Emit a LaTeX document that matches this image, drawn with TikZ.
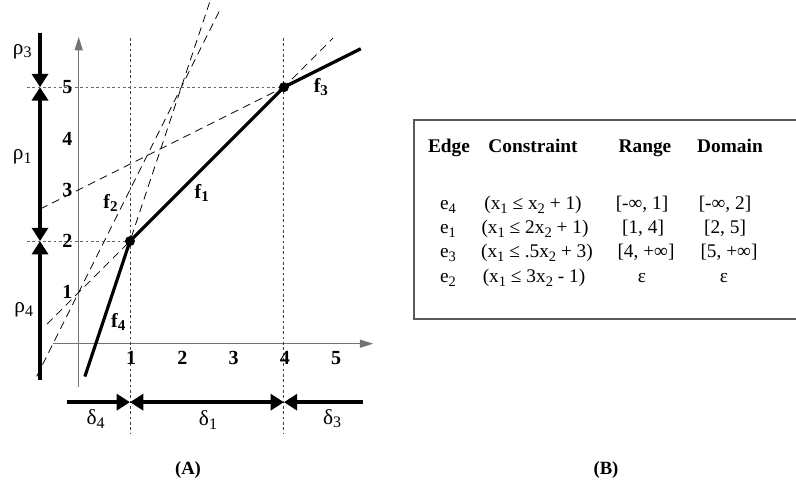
\documentclass[tikz,border=0pt]{standalone}
\usepackage{fontspec}
\setmainfont{Liberation Serif}
\usetikzlibrary{arrows.meta}
\newcommand\lowsub[1]{\raisebox{-0.35ex}{\scalebox{0.75}{#1}}}
\begin{document}
\begin{tikzpicture}[x=0.75pt,y=-0.75pt,
  glbl/.style={font=\fontsize{15}{17}\selectfont\bfseries, inner sep=0pt},
  captionlbl/.style={font=\fontsize{14}{16}\selectfont\bfseries, inner sep=0pt},
  greek/.style={font=\fontsize{16}{18}\selectfont, inner sep=0pt},
  tbl/.style={font=\fontsize{14.5}{17}\selectfont, inner sep=0pt, anchor=base},
  tblh/.style={tbl, font=\fontsize{14.5}{17}\selectfont\bfseries},
  axisline/.style={draw=black!55, line width=0.9pt},
  axistip/.style={-{Triangle[width=6pt,length=10pt]}},
  guide/.style={draw=black!75, line width=0.75pt, dash pattern=on 2pt off 2pt},
  cline/.style={draw=black, line width=0.6pt, dash pattern=on 6pt off 4pt},
  fline/.style={draw=black, line width=2.4pt, line join=round},
  fat/.style={draw=black, line width=3.4pt},
  bigtip/.tip={Triangle[width=12pt,length=10pt]},
  dotnode/.style={circle, fill=black, inner sep=0pt, minimum size=7.5pt}]
\useasboundingbox (0,0) rectangle (796,491);

\begin{scope}[shift={(78.7,343.7)}, x={(38.475pt,0pt)}, y={(0pt,38.475pt)}]
  % axes
  \coordinate (xs) at (-0.5,0);   \coordinate (xe) at (5.74,0);
  \coordinate (ys) at (0,-0.84);  \coordinate (ye) at (0,5.98);
  \draw[axisline, axistip] (xs) -- (xe);
  \draw[axisline, axistip] (ys) -- (ye);

  % guide lines
  \coordinate (v1t) at (1,5.96);  \coordinate (v1b) at (1,-1.74);
  \coordinate (v4t) at (4,5.96);  \coordinate (v4b) at (4,-1.74);
  \coordinate (h5l) at (-1.01,5); \coordinate (h2l) at (-1.01,2);
  \coordinate (P) at (1,2);       \coordinate (Q) at (4,5);
  \draw[guide] (v1t) -- (v1b);
  \draw[guide] (v4t) -- (v4b);
  \draw[guide, draw=black!60] (h5l) -- (Q);
  \draw[guide, draw=black!60] (h2l) -- (P);

  % constraint lines (dashed)
  \coordinate (a1) at (-0.62,0.38);  \coordinate (b1) at (4.96,5.96);
  \coordinate (a2) at (-0.82,-0.64); \coordinate (b2) at (2.75,6.5);
  \coordinate (a3) at (-0.75,2.625);
  \coordinate (a4) at (0.12,-0.64);  \coordinate (b4) at (2.55,6.65);
  \coordinate (e3) at (5.5,5.75);
  \draw[cline] (a1) -- (b1);
  \draw[cline] (a2) -- (b2);
  \draw[cline] (a3) -- (Q);
  \draw[cline] (a4) -- (b4);

  % piecewise function
  \draw[fline] (a4) -- (P) -- (Q) -- (e3);
  \node[dotnode] (dP) at (P) {};
  \node[dotnode] (dQ) at (Q) {};

  % tick labels
  \foreach \i in {1,...,5} {
    \node[glbl] (xt\i) at (\i+0.02,-0.28) {\i};
  }
  \foreach \i in {1,...,5} {
    \node[glbl] (yt\i) at (-0.22,\i) {\i};
  }

  % function labels
  \node[glbl] (f1) at (2.4,2.94) {f\lowsub{1}};
  \node[glbl] (f2) at (0.62,2.74) {f\lowsub{2}};
  \node[glbl] (f3) at (4.72,5.0) {f\lowsub{3}};
  \node[glbl] (f4) at (0.77,0.42) {f\lowsub{4}};

  % rho arrows
  \coordinate (rtop) at (-0.754,6.05); \coordinate (r5) at (-0.754,5);
  \coordinate (r2) at (-0.754,2);      \coordinate (rbot) at (-0.754,-0.71);
  \draw[fat, -{bigtip}] (rtop) -- (r5);
  \draw[fat, {bigtip}-{bigtip}] (r5) -- (r2);
  \draw[fat, -{bigtip}] (rbot) -- (r2);
  \node[greek] (rho3) at (-1.1,5.7) {ρ\lowsub{3}};
  \node[greek] (rho1) at (-1.1,3.64) {ρ\lowsub{1}};
  \node[greek] (rho4) at (-1.07,0.66) {ρ\lowsub{4}};

  % delta arrows
  \coordinate (dl) at (-0.23,-1.14); \coordinate (d1) at (1,-1.14);
  \coordinate (d4) at (4,-1.14);     \coordinate (dr) at (5.54,-1.14);
  \draw[fat, -{bigtip}] (dl) -- (d1);
  \draw[fat, {bigtip}-{bigtip}] (d1) -- (d4);
  \draw[fat, -{bigtip}] (dr) -- (d4);
  \node[greek] (del4) at (0.33,-1.47) {δ\lowsub{4}};
  \node[greek] (del1) at (2.52,-1.49) {δ\lowsub{1}};
  \node[greek] (del3) at (4.94,-1.46) {δ\lowsub{3}};
\end{scope}

\node[captionlbl] (capA) at (188,470) {(A)};
\node[captionlbl] (capB) at (606,470) {(B)};

% table
\draw[draw=black!65, line width=1pt] (797,120) -- (414,120) -- (414,319) -- (797,319);
\node[tblh] (hE) at (449,153) {Edge};
\node[tblh] (hC) at (533,153) {Constraint};
\node[tblh] (hR) at (645,153) {Range};
\node[tblh] (hD) at (730,153) {Domain};

\node[tbl] (c11) at (448,210) {e\lowsub{4}};
\node[tbl] (c12) at (533,210) {(x\lowsub{1} ≤ x\lowsub{2} + 1)};
\node[tbl] (c13) at (642,210) {[-∞, 1]};
\node[tbl] (c14) at (725,210) {[-∞, 2]};

\node[tbl] (c21) at (448,234) {e\lowsub{1}};
\node[tbl] (c22) at (535,234) {(x\lowsub{1} ≤ 2x\lowsub{2} + 1)};
\node[tbl] (c23) at (643,234) {[1, 4]};
\node[tbl] (c24) at (725,234) {[2, 5]};

\node[tbl] (c31) at (448,258) {e\lowsub{3}};
\node[tbl] (c32) at (537,258) {(x\lowsub{1} ≤ .5x\lowsub{2} + 3)};
\node[tbl] (c33) at (646,258) {[4, +∞]};
\node[tbl] (c34) at (729,258) {[5, +∞]};

\node[tbl] (c41) at (448,283) {e\lowsub{2}};
\node[tbl] (c42) at (534,283) {(x\lowsub{1} ≤ 3x\lowsub{2} - 1)};
\node[tbl] (c43) at (642,283) {ε};
\node[tbl] (c44) at (724,283) {ε};
\end{tikzpicture}
\end{document}
